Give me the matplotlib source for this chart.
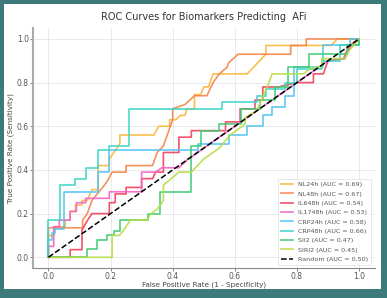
import matplotlib
matplotlib.use("Agg")
import matplotlib.pyplot as plt
from matplotlib.patches import Rectangle

# ROC curve vertices (fpr, tpr)
nl24_fpr = [0, 0, .019, .019, .054, .054, .07, .07, .087, .087, .108, .108, .125, .14, .16, .16, .196, .196, .21, .23, .23, .34, .355, .39, .39, .41, .425, .44, .445, .47, .47, .49, .50, .515, .53, .64, .70, .70, .91, .93, 1]
nl24_tpr = [0, .10, .10, .14, .14, .17, .17, .21, .21, .24, .24, .26, .26, .31, .31, .42, .42, .45, .48, .52, .56, .56, .60, .60, .63, .63, .65, .65, .68, .68, .745, .745, .78, .78, .84, .84, .93, .97, .97, 1, 1]

nl48_fpr = [0, 0, .11, .11, .125, .14, .18, .19, .205, .25, .25, .335, .35, .37, .39, .40, .40, .44, .47, .51, .53, .55, .575, .58, .61, .78, .78, .83, .83, 1]
nl48_tpr = [0, .135, .135, .17, .20, .26, .33, .35, .39, .39, .42, .42, .48, .51, .59, .63, .68, .70, .74, .74, .80, .84, .87, .89, .93, .93, .97, .97, 1, 1]

il6_fpr = [0, .07, .07, .108, .108, .126, .14, .196, .196, .215, .215, .25, .25, .30, .30, .335, .345, .37, .37, .42, .42, .46, .46, .57, .57, .617, .617, .665, .665, .69, .69, .74, .80, .853, .853, .885, .90, .955, .955, .98, 1]
il6_tpr = [0, 0, .035, .035, .124, .17, .20, .20, .25, .25, .29, .29, .32, .32, .36, .36, .39, .39, .48, .48, .55, .55, .58, .58, .62, .62, .68, .68, .72, .72, .78, .78, .80, .80, .84, .84, .90, .91, .93, .98, 1]

il17_fpr = [0, 0, .017, .017, .035, .035, .07, .07, .09, .09, .12, .12, .196, .196, .30, .30, .345, .365, .42, .45, .52, .58, .66, .75, .84, .90, .95, .955, .97, 1]
il17_tpr = [0, .05, .05, .14, .14, .17, .17, .21, .21, .25, .25, .27, .27, .30, .30, .39, .39, .41, .41, .45, .52, .58, .66, .75, .84, .90, .91, .93, .97, 1]

crp24_fpr = [0, 0, .012, .012, .02, .02, .05, .05, .16, .16, .196, .196, .48, .48, .58, .58, .64, .64, .69, .69, .72, .72, .76, .76, .79, .79, .885, .885, .97, .97, 1]
crp24_tpr = [0, .08, .08, .11, .11, .13, .13, .30, .30, .39, .39, .49, .49, .52, .52, .56, .56, .60, .60, .65, .65, .69, .69, .74, .74, .87, .87, .97, .97, 1, 1]

crp48_fpr = [0, 0, .036, .036, .087, .087, .12, .12, .16, .16, .196, .196, .26, .26, .56, .56, .67, .67, .70, .70, .76, .76, .80, .80, .88, .88, .94, .94, 1, 1]
crp48_tpr = [0, .17, .17, .33, .33, .36, .36, .41, .41, .49, .49, .51, .51, .68, .68, .71, .71, .74, .74, .77, .77, .80, .80, .86, .86, .90, .90, .97, .97, 1]

sii_fpr = [0, .124, .124, .157, .157, .19, .19, .21, .21, .23, .23, .32, .32, .36, .36, .46, .46, .49, .49, .55, .55, .62, .62, .68, .68, .73, .73, .77, .77, .84, .84, .96, .96, 1, 1]
sii_tpr = [0, 0, .04, .04, .08, .08, .10, .10, .12, .12, .17, .17, .20, .20, .30, .30, .51, .51, .58, .58, .61, .61, .68, .68, .72, .72, .78, .78, .87, .87, .93, .93, .97, .97, 1]

siri_fpr = [0, .205, .205, .228, .24, .264, .317, .33, .35, .37, .37, .42, .46, .50, .55, .585, .633, .633, .67, .71, .72, .82, .85, .88, .88, .955, .97, 1]
siri_tpr = [0, 0, .10, .10, .12, .17, .17, .20, .22, .26, .33, .39, .39, .45, .50, .56, .61, .64, .67, .80, .84, .84, .87, .87, .91, .91, .95, 1]

names = ["NL24h", "NL48h", "IL648h", "IL1748h", "CRP24h", "CRP48h", "SII2", "SIRI2"]
aucs = [0.69, 0.67, 0.54, 0.53, 0.58, 0.66, 0.47, 0.45]
colors = ["#f9b83c", "#f5844a", "#f03f5c", "#f262c2", "#50c3f2", "#38d4c4", "#3ccb70", "#b5de46"]

curves = [(nl24_fpr, nl24_tpr), (nl48_fpr, nl48_tpr), (il6_fpr, il6_tpr), (il17_fpr, il17_tpr),
          (crp24_fpr, crp24_tpr), (crp48_fpr, crp48_tpr), (sii_fpr, sii_tpr), (siri_fpr, siri_tpr)]

fig = plt.figure(figsize=(3.87, 2.98), dpi=100, facecolor="#3c7a7b")
# white card inside the teal border, kept behind the axes
card = Rectangle((4 / 387, 9 / 298), 377 / 387, 285 / 298, transform=fig.transFigure,
                 facecolor="white", edgecolor="none", zorder=-10)
fig.patches.append(card)

ax = fig.add_axes([0.085, 0.10, 0.883, 0.806])
ax.set_facecolor("white")

for (fpr, tpr), name, auc, c in zip(curves, names, aucs, colors):
    ax.plot(fpr, tpr, color=c, lw=1.2, alpha=0.9, label=f"{name} (AUC = {auc:.2f})")

ax.plot([0, 1], [0, 1], "k--", lw=1.1, label="Random (AUC = 0.50)")

ax.set_xlim(-0.05, 1.05)
ax.set_ylim(-0.05, 1.05)
ax.set_xticks([0, 0.2, 0.4, 0.6, 0.8, 1.0])
ax.set_yticks([0, 0.2, 0.4, 0.6, 0.8, 1.0])
ax.tick_params(labelsize=5.5, colors="#555555", length=2, width=0.5, pad=1)
ax.grid(True, color="#e6e6e6", lw=0.6)
ax.set_axisbelow(True)
for s in ["top", "right"]:
    ax.spines[s].set_visible(False)
ax.spines["left"].set_color("#aaaaaa")
ax.spines["left"].set_linewidth(1.5)
ax.spines["bottom"].set_color("#888888")
ax.spines["bottom"].set_linewidth(0.8)

ax.set_title("ROC Curves for Biomarkers Predicting  AFi", fontsize=7.0, color="#333333", pad=6)
ax.set_xlabel("False Positive Rate (1 - Specificity)", fontsize=5.2, color="#444444")
ax.set_ylabel("True Positive Rate (Sensitivity)", fontsize=5.2, color="#444444")
ax.xaxis.set_label_coords(0.5, -0.057)
ax.yaxis.set_label_coords(-0.055, 0.5)

leg = ax.legend(loc="lower right", fontsize=4.6, frameon=True, handlelength=1.8, labelspacing=0.6,
                borderpad=0.5, fancybox=False)
leg.get_frame().set_edgecolor("#dddddd")
leg.get_frame().set_linewidth(0.6)
for t in leg.get_texts():
    t.set_color("#555555")

fig.savefig("out.png", dpi=100, facecolor=fig.get_facecolor())
